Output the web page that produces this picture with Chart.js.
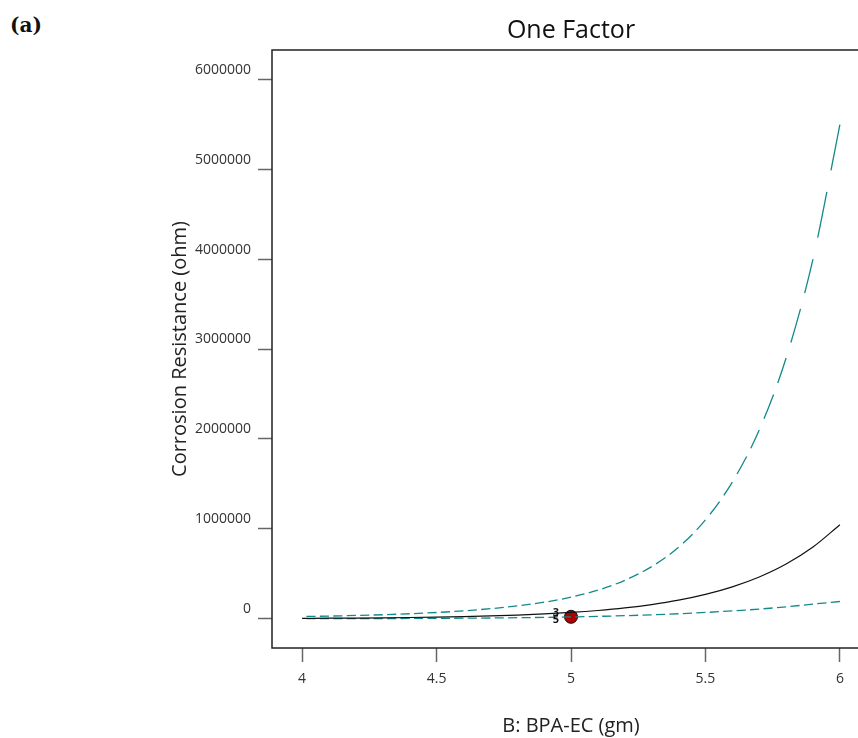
<!DOCTYPE html>
<html>
<head>
<meta charset="utf-8">
<title>One Factor</title>
<script src="https://cdn.jsdelivr.net/npm/chart.js@4.4.1/dist/chart.umd.min.js"></script>
<style>
  html, body { margin: 0; padding: 0; background: #fff; overflow: hidden; width: 858px; height: 738px; }
  .wrap { position: relative; width: 858px; height: 738px; overflow: hidden; }
  .panel-label { position: absolute; left: 10px; top: 13px; font: bold 20px "DejaVu Serif", serif; color: #111; }
  canvas { position: absolute; left: 0; top: 0; }
</style>
</head>
<body>
<div class="wrap">
  <div class="panel-label">(a)</div>
  <canvas id="oneFactor" width="880" height="738"></canvas>
</div>
<script>
// Datos
const bpaValues = [4.0, 4.1, 4.2, 4.3, 4.4, 4.5, 4.6, 4.7, 4.8, 4.9, 5.0, 5.1, 5.2, 5.3, 5.4, 5.5, 5.6, 5.7, 5.8, 5.9, 6.0];
const predicted = [4700, 6200, 8100, 10600, 13900, 18200, 23800, 31200, 40900, 53600, 70200, 92000, 120500, 157900, 206800, 271000, 355000, 465000, 609000, 798000, 1045000];
const upperBand = [25000, 30000, 37000, 45000, 56000, 70000, 88000, 112000, 143000, 184000, 240000, 318000, 428000, 580000, 795000, 1100000, 1520000, 2100000, 2900000, 4000000, 5496000];
const lowerBand = [890, 1270, 1770, 2470, 3430, 4720, 6430, 8720, 11700, 15600, 20500, 26800, 34500, 44100, 55900, 70200, 87500, 108000, 133000, 163000, 192000];

// Punto de diseño
const designX = [5];
const designY = [22000];
const designCounts = ['3', '5'];

// Ejes
const xTicks = [4, 4.5, 5, 5.5, 6];
const yTicks = [0, 1000000, 2000000, 3000000, 4000000, 5000000, 6000000];

const toXY = ys => bpaValues.map((x, i) => ({ x: x, y: ys[i] }));

// Guiones que crecen con cada tramo (como en Design-Expert)
const segPeriod = ctx => Math.hypot(ctx.p1.x - ctx.p0.x, ctx.p1.y - ctx.p0.y) / 2;
const dashBySegment = ctx => {
    const p = segPeriod(ctx);
    return [p * 0.68, p * 0.32];
};
// empieza con hueco para que el tramo termine en guion
const dashOffsetBySegment = ctx => segPeriod(ctx) * 0.68;

// Marco del área del gráfico
const framePlugin = {
    id: 'frame',
    beforeDatasetsDraw(chart) {
        const { ctx, chartArea: a } = chart;
        ctx.save();
        ctx.strokeStyle = '#222';
        ctx.lineWidth = 1.5;
        ctx.strokeRect(a.left, a.top, a.right - a.left, a.bottom - a.top);
        ctx.restore();
    }
};

// Etiquetas de conteo junto al punto
const countLabels = {
    id: 'countLabels',
    afterDatasetsDraw(chart) {
        const meta = chart.getDatasetMeta(3);
        const pt = meta.data[0];
        if (!pt) return;
        const { ctx } = chart;
        ctx.save();
        ctx.font = 'bold 11px "Open Sans", sans-serif';
        ctx.fillStyle = '#111';
        ctx.textAlign = 'center';
        ctx.textBaseline = 'middle';
        ctx.fillText(designCounts[0], pt.x - 15, pt.y - 4);
        ctx.fillText(designCounts[1], pt.x - 15, pt.y + 3);
        ctx.restore();
    }
};

const teal = '#14898a';

const chart = new Chart(document.getElementById('oneFactor').getContext('2d'), {
    type: 'scatter',
    data: {
        datasets: [
            {
                label: 'Predicción',
                data: toXY(predicted),
                showLine: true,
                borderColor: '#111',
                borderWidth: 1.2,
                pointRadius: 0,
                cubicInterpolationMode: 'monotone'
            },
            {
                label: 'IC superior',
                data: toXY(upperBand),
                showLine: true,
                borderColor: teal,
                borderWidth: 1.3,
                pointRadius: 0,
                cubicInterpolationMode: 'monotone',
                segment: { borderDash: dashBySegment, borderDashOffset: dashOffsetBySegment }
            },
            {
                label: 'IC inferior',
                data: toXY(lowerBand),
                showLine: true,
                borderColor: teal,
                borderWidth: 1.3,
                pointRadius: 0,
                cubicInterpolationMode: 'monotone',
                segment: { borderDash: dashBySegment, borderDashOffset: dashOffsetBySegment }
            },
            {
                label: 'Puntos de diseño',
                data: designX.map((x, i) => ({ x: x, y: designY[i] })),
                pointRadius: 6.5,
                pointBackgroundColor: '#b00000',
                pointBorderColor: '#111',
                pointBorderWidth: 1
            }
        ]
    },
    options: {
        responsive: false,
        animation: false,
        layout: { padding: { left: 0, right: 10, top: 0, bottom: 0 } },
        plugins: {
            legend: { display: false },
            tooltip: { enabled: false },
            title: {
                display: true,
                text: 'One Factor',
                fullSize: false,
                color: '#111',
                font: { family: '"Open Sans", sans-serif', size: 25, weight: 'normal' },
                padding: { top: 16, bottom: 4 }
            }
        },
        scales: {
            x: {
                type: 'linear',
                min: 3.888,
                max: 6.112,
                afterBuildTicks: s => { s.ticks = xTicks.map(v => ({ value: v })); },
                afterFit: s => { s.height = 90; },
                border: { display: false },
                grid: { drawOnChartArea: false, drawTicks: true, tickLength: 14, tickColor: '#666', tickWidth: 1.5 },
                ticks: {
                    autoSkip: false,
                    maxRotation: 0,
                    padding: 9,
                    color: '#333',
                    font: { family: '"Open Sans", sans-serif', size: 14 },
                    callback: v => String(v)
                },
                title: {
                    display: true,
                    text: 'B: BPA-EC (gm)',
                    color: '#222',
                    font: { family: '"Open Sans", sans-serif', size: 20 },
                    padding: { top: 0, bottom: 0 }
                }
            },
            y: {
                type: 'linear',
                min: -325000,
                max: 6325000,
                afterBuildTicks: s => { s.ticks = yTicks.map(v => ({ value: v })); },
                afterFit: s => { s.width = 272; },
                border: { display: false },
                grid: { drawOnChartArea: false, drawTicks: true, tickLength: 14, tickColor: '#666', tickWidth: 1.5 },
                ticks: {
                    autoSkip: false,
                    padding: 7,
                    labelOffset: -9.5,
                    color: '#333',
                    font: { family: '"Open Sans", sans-serif', size: 14 },
                    callback: v => String(v)
                },
                title: {
                    display: true,
                    text: 'Corrosion Resistance (ohm)',
                    color: '#222',
                    font: { family: '"Open Sans", sans-serif', size: 20 },
                    padding: { top: 168, bottom: 0 }
                }
            }
        }
    },
    plugins: [framePlugin, countLabels]
});
</script>
</body>
</html>
